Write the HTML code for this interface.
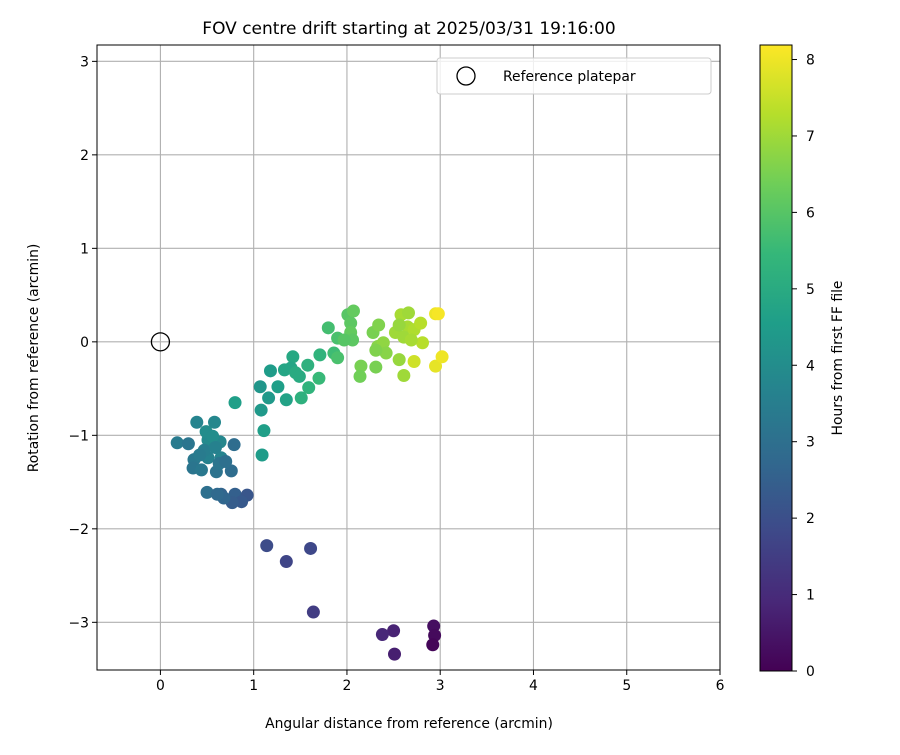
<!DOCTYPE html>
<html><head><meta charset="utf-8"><style>
body{margin:0;background:#fff;font-family:"Liberation Sans","DejaVu Sans",sans-serif}
svg text{font-family:"DejaVu Sans","Liberation Sans",sans-serif;fill:#000}
</style></head><body>
<svg id="chart" width="900" height="750" xmlns="http://www.w3.org/2000/svg">
<defs><linearGradient id="vir" x1="0" y1="1" x2="0" y2="0"></linearGradient></defs>
<g id="grid"></g>
<g id="pts"></g>
<g id="axes"></g>
<text x="409" y="34" font-size="17" text-anchor="middle">FOV centre drift starting at 2025/03/31 19:16:00</text>
<text x="409" y="728" font-size="13.9" text-anchor="middle">Angular distance from reference (arcmin)</text>
<text transform="translate(38,358) rotate(-90)" font-size="13.9" text-anchor="middle">Rotation from reference (arcmin)</text>
<text transform="translate(842,358) rotate(-90)" font-size="13.9" text-anchor="middle">Hours from first FF file</text>
<g>
<rect x="437" y="58" width="274" height="36" rx="3" fill="#fff" fill-opacity="0.8" stroke="#ccc"/>
<circle cx="466" cy="76" r="9" fill="none" stroke="#000" stroke-width="1.3"/>
<text x="503" y="81" font-size="13.9">Reference platepar</text>
</g>
</svg>
<script>
const xs=[2.93,2.94,2.92,2.50,2.38,2.51,1.14,1.35,1.61,1.64,
0.65,0.80,0.93,0.87,0.77,0.68,0.50,0.61,
0.80,0.39,0.58,1.11,0.18,0.30,0.51,0.64,0.79,1.09,0.36,0.51,0.65,0.35,0.44,0.60,0.76,0.49,0.56,0.47,0.42,0.59,0.63,0.70,
1.08,1.07,1.18,1.16,1.26,1.35,1.33,1.42,1.40,1.45,1.49,1.51,1.58,1.59,1.70,1.71,1.80,1.86,1.90,1.90,2.01,2.07,2.04,2.04,2.06,1.97,
2.15,2.14,2.31,2.28,2.34,2.33,2.39,2.42,2.31,2.56,2.61,2.72,2.52,2.58,2.66,2.65,2.61,2.72,2.79,2.81,2.95,2.98,2.95,3.02,2.56,2.69];
const ys=[-3.04,-3.14,-3.24,-3.09,-3.13,-3.34,-2.18,-2.35,-2.21,-2.89,
-1.63,-1.63,-1.64,-1.71,-1.72,-1.67,-1.61,-1.63,
-0.65,-0.86,-0.86,-0.95,-1.08,-1.09,-1.05,-1.07,-1.10,-1.21,-1.26,-1.24,-1.24,-1.35,-1.37,-1.39,-1.38,-0.96,-1.01,-1.16,-1.21,-1.13,-1.30,-1.28,
-0.73,-0.48,-0.31,-0.60,-0.48,-0.62,-0.30,-0.16,-0.28,-0.33,-0.37,-0.60,-0.25,-0.49,-0.39,-0.14,0.15,-0.12,-0.17,0.04,0.29,0.33,0.20,0.10,0.02,0.02,
-0.26,-0.37,-0.27,0.10,0.18,-0.05,-0.01,-0.12,-0.09,-0.19,-0.36,-0.21,0.10,0.29,0.31,0.16,0.05,0.13,0.20,-0.01,0.30,0.30,-0.26,-0.16,0.18,0.02];
const hours=[0.3,0.2,0.1,0.8,0.9,0.7,1.9,1.7,1.8,1.5,
2.6,2.5,2.2,2.3,2.4,2.7,3.0,2.8,
4.6,3.7,3.8,4.6,3.4,3.2,3.9,3.8,2.9,4.5,3.3,3.6,3.7,3.2,3.3,3.1,2.9,4.0,4.0,3.5,3.4,3.6,3.2,3.0,
4.4,4.3,4.5,4.4,4.6,4.7,4.8,4.9,4.8,5.0,5.0,5.2,5.2,5.3,5.5,5.3,5.7,5.6,5.8,5.8,6.0,6.2,6.1,6.2,6.1,6.0,
6.5,6.4,6.5,6.5,6.6,6.7,6.8,6.7,6.6,6.9,7.0,7.6,7.0,7.1,7.0,7.1,7.0,7.2,7.3,7.3,8.0,8.1,7.9,8.0,6.9,7.1];
const xTicks=[0,1,2,3,4,5,6];
const yTicks=[-3,-2,-1,0,1,2,3];
const cTicks=[0,1,2,3,4,5,6,7,8];
const NS="http://www.w3.org/2000/svg";
const L=97,R=720,T=45,B=670,X0=-0.68,X1=6,Y0=-3.51,Y1=3.175;
const CMAX=8.19,CB_L=760,CB_R=792;
const sx=v=>L+(v-X0)/(X1-X0)*(R-L);
const sy=v=>B-(v-Y0)/(Y1-Y0)*(B-T);
const sc=v=>671-v/CMAX*(671-45);
const vir=["#440154","#482878","#3e4989","#31688e","#26828e","#1f9e89","#35b779","#6ece58","#b5de2b","#fde725"];
function hex(h){return [1,3,5].map(i=>parseInt(h.substr(i,2),16));}
function cmap(t){t=Math.max(0,Math.min(1,t));const p=t*(vir.length-1);const i=Math.min(vir.length-2,Math.floor(p));const f=p-i;const a=hex(vir[i]),b=hex(vir[i+1]);return "rgb("+a.map((c,k)=>Math.round(c+(b[k]-c)*f)).join(",")+")";}
function mk(tag,at,par){const e=document.createElementNS(NS,tag);for(const k in at)e.setAttribute(k,at[k]);par.appendChild(e);return e;}
const grid=document.getElementById('grid'),axes=document.getElementById('axes'),pts=document.getElementById('pts');
const grad=document.getElementById('vir');
vir.forEach((c,i)=>{mk('stop',{offset:(i/(vir.length-1)*100)+'%','stop-color':c},grad);});
xTicks.forEach(t=>{const x=sx(t);
const g=mk('line',{x1:x,x2:x,y1:T,y2:B,stroke:'#b0b0b0','stroke-width':1.1},grid);


const tk=mk('line',{x1:x,x2:x,y1:B,y2:B+5,stroke:'#000'},axes);


const tx=mk('text',{x:x,y:B+20,'font-size':13.9,'text-anchor':'middle'},axes);tx.textContent=t;

});
yTicks.forEach(t=>{const y=sy(t);
const g=mk('line',{x1:L,x2:R,y1:y,y2:y,stroke:'#b0b0b0','stroke-width':1.1},grid);


const tk=mk('line',{x1:L-5,x2:L,y1:y,y2:y,stroke:'#000'},axes);


const tx=mk('text',{x:L-8,y:y+5,'font-size':13.9,'text-anchor':'end'},axes);tx.textContent=(t<0?'\u2212'+(-t):t);

});
const fr=mk('rect',{x:L,y:T,width:R-L,height:B-T,fill:'none',stroke:'#000','stroke-width':1},axes);


xs.forEach((x,i)=>{const c=mk('circle',{cx:sx(x),cy:sy(ys[i]),r:6.5,fill:cmap(hours[i]/CMAX)},pts);

});
const ref=mk('circle',{cx:sx(0),cy:sy(0),r:9,fill:'none',stroke:'#000','stroke-width':1.3},pts);


const cb=mk('rect',{x:CB_L,y:45,width:CB_R-CB_L,height:626,fill:'url(#vir)',stroke:'#000','stroke-width':1},axes);


cTicks.forEach(t=>{const y=sc(t);
const tk=mk('line',{x1:CB_R,x2:CB_R+5,y1:y,y2:y,stroke:'#000'},axes);


const tx=mk('text',{x:CB_R+14,y:y+5,'font-size':13.9},axes);tx.textContent=t;

});
</script>
</body></html>
